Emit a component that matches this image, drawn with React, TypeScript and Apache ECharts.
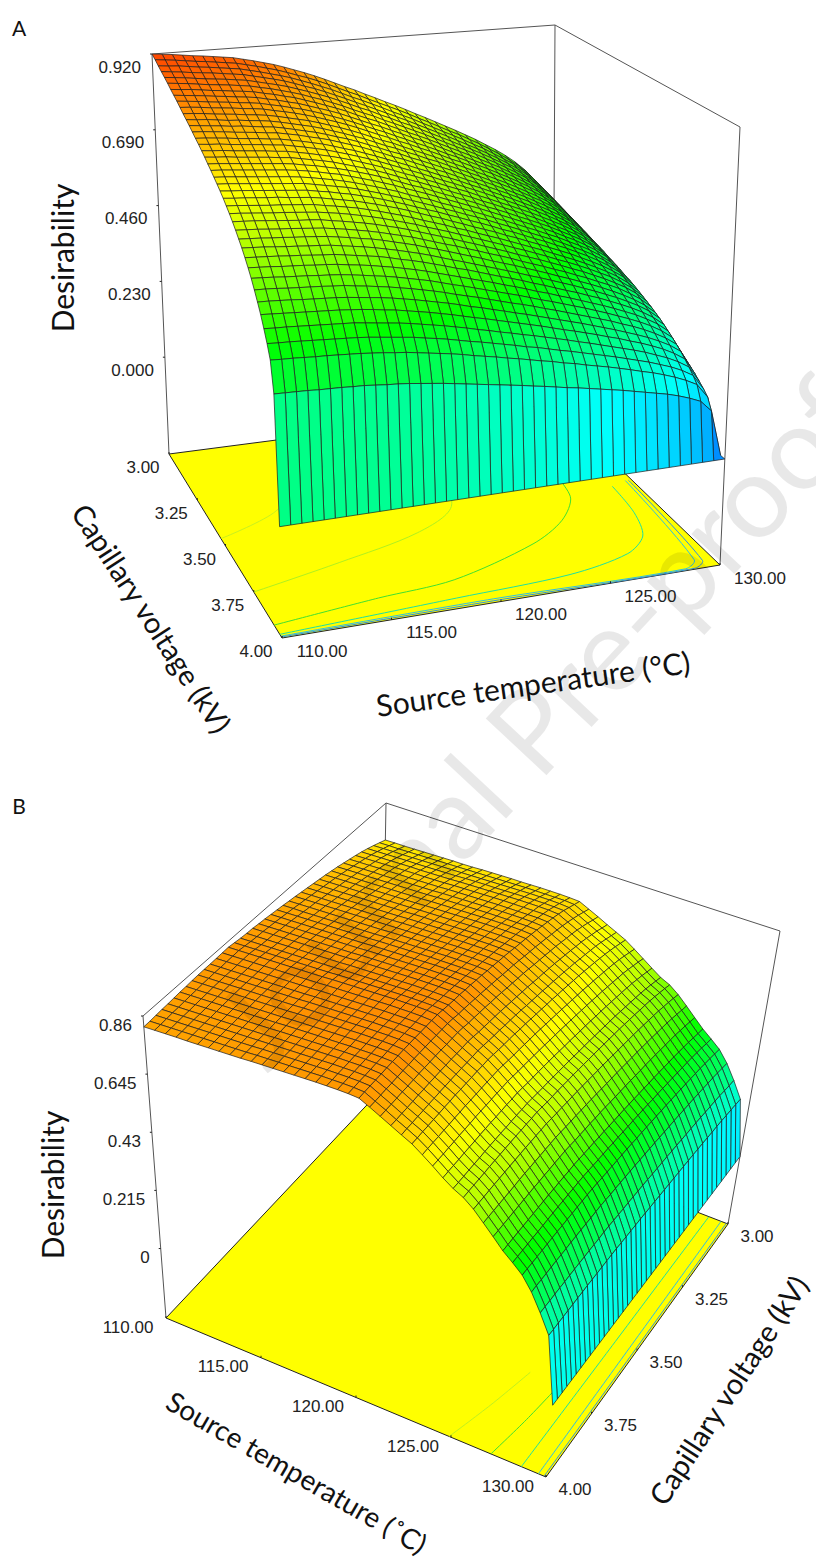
import React, { useEffect, useRef } from "react";
import * as echarts from "echarts";

const tempTicks = [110, 115, 120, 125, 130];
const voltTicks = [3, 3.25, 3.5, 3.75, 4];
const zTicksA = [0, 0.23, 0.46, 0.69, 0.92];
const zTicksB = [0, 0.215, 0.43, 0.645, 0.86];
const zLabelsA = ["0.000", "0.230", "0.460", "0.690", "0.920"];
const zLabelsB = ["0", "0.215", "0.43", "0.645", "0.86"];
const tempLabels = ["110.00", "115.00", "120.00", "125.00", "130.00"];
const voltLabels = ["3.00", "3.25", "3.50", "3.75", "4.00"];

// Desirability x 1000. Row = temperature 110..130 in 0.5 steps, column = voltage 3.00..4.00 in 0.025 steps.
const surfaceA = [
[920,912,903,895,887,879,870,862,854,845,836,828,820,811,802,794,785,776,766,757,747,737,727,716,704,692,679,665,650,635,618,600,581,559,536,512,484,454,420,340,0],
[917,909,900,892,884,876,867,859,851,843,834,825,817,809,800,791,782,773,764,755,745,735,724,713,702,690,677,663,648,633,616,598,579,558,535,510,482,452,418,339,0],
[914,906,898,889,881,873,865,856,848,840,831,823,814,806,797,789,780,771,761,752,742,732,722,711,699,687,675,661,646,631,614,596,577,556,533,508,481,451,417,338,0],
[910,902,894,885,877,869,861,853,844,836,827,819,811,803,794,785,776,767,758,749,739,729,719,708,696,684,672,658,643,628,612,593,574,553,531,506,479,449,415,337,0],
[906,898,890,882,873,865,857,849,841,833,824,815,807,799,790,782,773,764,755,746,736,726,716,705,693,681,669,655,641,625,609,591,572,551,528,504,477,447,413,335,0],
[903,895,887,879,870,862,854,846,838,830,821,813,805,796,787,779,770,761,752,743,733,723,713,703,691,679,666,653,638,623,607,589,570,549,526,502,475,445,412,334,0],
[899,891,883,875,867,859,850,842,834,826,817,809,801,793,784,776,767,758,749,740,730,720,710,699,688,676,663,650,636,620,604,586,567,547,524,500,473,443,410,333,0],
[895,887,879,871,863,855,847,839,831,823,814,806,797,789,780,772,763,754,746,737,727,717,707,696,685,673,661,647,633,618,601,584,565,544,522,498,471,441,408,331,0],
[891,883,875,867,859,851,843,835,827,819,810,802,794,786,777,769,760,751,742,733,723,714,704,693,682,670,658,644,630,615,599,581,562,542,519,495,469,439,406,330,0],
[884,876,868,860,852,844,836,828,820,812,804,796,788,780,771,763,754,745,736,728,718,708,698,688,676,665,652,639,625,610,594,576,558,537,515,492,465,436,403,327,0],
[877,869,861,853,845,838,830,822,814,806,797,789,781,774,765,757,748,739,731,722,712,702,693,682,671,660,647,634,620,605,589,572,553,533,511,488,461,432,400,324,0],
[869,861,853,846,838,830,822,814,806,799,790,782,774,766,758,750,741,733,724,715,706,696,686,676,665,654,641,628,614,600,584,567,548,528,507,483,457,428,396,322,0],
[861,853,845,838,830,822,815,807,799,791,783,775,767,759,751,743,734,726,717,709,699,690,680,670,659,647,635,622,609,594,579,561,543,523,502,479,453,424,393,319,0],
[851,843,836,828,820,813,805,797,790,782,774,766,758,751,742,734,726,717,709,700,691,682,672,662,651,640,628,615,602,587,572,555,537,517,496,473,448,420,388,315,0],
[840,832,825,817,810,802,795,787,780,772,764,756,748,741,732,725,717,708,700,691,682,673,664,654,643,632,620,607,594,580,564,548,530,511,490,467,442,414,383,311,0],
[829,822,814,807,799,792,784,777,769,762,754,746,739,731,723,715,707,699,691,682,673,664,655,645,634,623,612,599,586,572,557,541,523,504,483,461,436,409,378,307,0],
[817,810,802,795,788,780,773,766,758,751,743,735,728,721,712,705,697,689,681,672,663,654,645,636,625,614,603,591,578,564,549,533,516,497,476,454,430,403,373,302,0],
[804,797,790,782,775,768,761,753,746,739,731,724,716,709,701,694,686,678,670,662,653,644,635,626,615,605,593,581,568,555,540,524,507,489,469,447,423,396,367,297,0],
[790,783,776,769,762,754,747,740,733,726,718,711,704,697,689,682,674,666,658,650,641,633,624,615,604,594,583,571,559,545,531,515,498,480,461,439,416,389,360,292,0],
[776,769,762,755,748,741,734,727,720,713,705,698,691,684,677,670,662,654,646,639,630,622,613,604,594,584,573,561,549,535,521,506,490,472,452,431,408,383,354,287,0],
[763,756,749,742,736,729,722,715,708,701,694,687,680,673,665,658,651,643,636,628,620,611,603,594,584,574,563,552,539,526,513,497,481,464,445,424,401,376,348,282,0],
[748,741,735,728,721,714,708,701,694,687,680,673,666,660,652,646,638,631,623,616,607,599,591,582,572,563,552,541,529,516,503,488,472,455,436,416,393,369,341,277,0],
[734,727,721,714,708,701,694,688,681,675,667,661,654,647,640,633,626,619,611,604,596,588,580,571,562,552,542,531,519,506,493,479,463,446,428,408,386,362,335,272,0],
[719,713,706,700,693,687,680,674,667,661,654,647,641,634,627,620,613,606,599,592,584,576,568,559,550,541,531,520,508,496,483,469,454,437,419,400,378,354,328,266,0],
[705,699,692,686,680,673,667,661,654,648,641,635,628,622,615,608,601,594,587,580,572,565,557,548,539,530,520,510,498,486,474,460,445,429,411,392,371,348,321,261,0],
[690,684,678,671,665,659,653,647,640,634,627,621,615,608,602,595,589,582,575,568,560,553,545,537,528,519,509,499,488,476,464,450,435,420,402,384,363,340,315,255,0],
[674,668,662,656,650,644,638,632,625,619,613,607,601,594,588,582,575,568,561,555,547,540,532,524,516,507,497,487,477,465,453,439,425,410,393,375,355,332,307,249,0],
[659,653,647,641,635,629,623,617,612,606,599,593,587,581,575,569,562,556,549,542,535,528,521,513,504,496,486,476,466,455,443,430,416,401,384,366,347,325,301,244,0],
[643,637,631,626,620,614,608,602,597,591,584,579,573,567,561,555,548,542,536,529,522,515,508,500,492,484,475,465,455,444,432,419,406,391,375,358,338,317,293,238,0],
[627,621,616,610,604,599,593,587,582,576,570,564,559,553,547,541,535,529,522,516,509,502,495,488,480,472,463,453,443,433,421,409,396,381,366,349,330,309,286,232,0],
[611,606,600,594,589,584,578,572,567,562,555,550,544,539,533,527,521,515,509,503,496,489,483,475,467,459,451,442,432,422,411,398,386,371,356,340,321,301,279,226,0],
[594,589,583,578,573,567,562,557,551,546,540,535,529,524,518,513,507,501,495,489,482,476,469,462,454,447,438,429,420,410,399,387,375,361,346,330,312,293,271,220,0],
[577,572,567,561,556,551,546,541,535,530,524,519,514,509,503,498,492,486,481,475,469,462,456,449,441,434,426,417,408,398,388,376,364,351,336,321,303,284,263,213,0],
[558,553,548,543,538,533,528,523,518,513,507,502,497,492,487,482,476,470,465,459,453,447,441,434,427,420,412,403,395,385,375,364,352,339,325,310,294,275,254,206,0],
[539,534,529,524,520,515,510,505,500,495,490,485,480,475,470,465,460,454,449,444,438,432,426,419,412,405,398,390,381,372,362,351,340,328,314,300,284,266,246,199,0],
[518,513,509,504,499,495,490,485,481,476,471,466,462,457,452,447,442,437,432,426,421,415,409,403,396,390,382,375,366,357,348,338,327,315,302,288,272,255,236,192,0],
[494,490,485,481,476,472,467,463,458,454,449,445,440,436,431,426,421,416,412,407,401,396,390,384,378,371,365,357,349,341,332,322,312,300,288,275,260,244,225,183,0],
[466,462,458,453,449,445,441,437,432,428,424,419,415,411,406,402,397,393,388,384,378,373,368,363,356,350,344,337,329,322,313,304,294,283,272,259,245,230,212,172,0],
[430,426,422,418,415,411,407,403,399,395,391,387,383,379,375,371,367,362,358,354,349,344,340,335,329,323,317,311,304,297,289,280,271,261,251,239,226,212,196,159,0],
[345,342,339,336,333,329,326,323,320,317,314,311,307,304,301,298,294,291,287,284,280,276,273,268,264,259,255,249,244,238,232,225,218,210,201,192,181,170,157,128,0],
[0,0,0,0,0,0,0,0,0,0,0,0,0,0,0,0,0,0,0,0,0,0,0,0,0,0,0,0,0,0,0,0,0,0,0,0,0,0,0,0,0],
];
const surfaceB = [
[716,726,736,745,753,760,766,772,778,783,788,792,796,800,804,808,811,815,818,821,824,826,829,830,832,835,838,837,836,835,835,834,833,831,830,828,826,825,823,821,820],
[717,727,737,746,754,761,767,773,779,784,789,793,797,801,805,809,812,816,819,822,825,827,830,831,833,836,839,838,837,836,836,835,834,832,831,829,827,826,824,822,821],
[717,727,738,747,755,762,768,774,780,785,790,794,798,802,806,810,813,816,820,823,826,828,831,832,834,837,840,839,838,837,837,836,835,833,832,830,828,827,825,823,822],
[718,728,738,748,756,763,769,775,780,785,791,795,799,803,807,811,814,817,821,824,827,829,832,833,835,838,841,840,839,838,838,837,836,834,833,831,829,828,826,824,823],
[719,729,739,749,757,764,770,775,781,786,791,796,800,804,808,812,815,818,822,825,828,830,833,834,836,839,842,841,840,839,839,838,837,835,834,832,830,829,827,825,823],
[720,730,740,749,758,765,771,776,782,787,792,797,801,805,809,813,816,819,823,826,829,831,834,835,837,840,843,842,841,840,840,839,838,836,835,833,831,830,828,826,824],
[721,731,741,750,758,766,771,777,783,788,793,797,802,806,810,814,817,820,824,827,830,832,835,836,838,841,844,843,842,841,841,840,839,837,836,834,832,831,829,827,825],
[722,732,742,751,759,766,772,778,784,789,794,798,803,807,811,815,818,821,825,828,831,833,836,837,839,842,845,844,843,842,842,841,840,838,837,835,833,832,830,828,826],
[722,733,743,752,760,767,773,779,785,790,795,799,804,808,812,816,819,822,826,829,832,834,837,838,840,843,846,845,844,843,843,842,841,839,838,836,834,833,831,829,827],
[723,734,744,753,761,768,774,780,786,791,796,800,805,809,813,817,820,823,827,830,833,835,838,839,841,844,847,846,845,844,844,843,842,840,839,837,835,834,832,830,828],
[725,735,745,755,763,770,776,782,788,793,798,802,807,811,815,818,822,825,829,832,835,837,840,841,843,846,849,848,847,846,846,845,844,842,841,839,837,835,834,832,830],
[726,736,746,756,764,771,777,783,789,794,799,803,808,812,816,819,823,826,830,833,836,838,841,842,844,847,850,849,848,847,847,846,845,843,842,840,838,836,835,833,831],
[727,737,747,757,765,772,778,784,790,795,800,804,808,813,817,820,824,827,831,834,837,839,842,843,845,848,851,850,849,848,848,847,846,844,843,841,839,837,836,834,832],
[728,738,748,757,766,773,779,785,791,796,801,805,809,814,818,821,825,828,832,835,838,840,843,844,846,849,852,851,850,849,849,848,847,845,844,842,840,838,837,835,833],
[728,739,749,758,767,774,780,786,792,797,802,806,810,815,819,822,826,829,833,836,839,841,844,845,847,850,853,852,851,850,850,849,848,846,844,843,841,839,838,836,834],
[729,740,750,759,768,775,781,787,793,798,803,807,811,816,820,823,827,830,834,837,840,842,845,846,848,851,854,853,852,851,851,850,849,847,845,844,842,840,839,837,835],
[730,740,751,760,769,775,781,788,793,799,804,808,812,817,821,824,828,831,834,838,841,843,846,847,849,852,855,854,853,852,852,851,850,848,846,845,843,841,840,838,836],
[730,740,751,760,769,775,781,788,793,799,804,808,812,817,821,824,828,831,834,838,841,843,846,847,849,852,855,854,853,852,852,851,850,848,846,845,843,841,840,838,836],
[730,740,751,760,769,775,781,788,793,799,804,808,812,817,821,824,828,831,834,838,841,843,846,847,849,852,855,854,853,852,852,851,850,848,846,845,843,841,840,838,836],
[729,740,750,759,768,775,781,787,793,798,803,807,811,816,820,823,827,830,834,837,840,842,845,846,848,851,854,853,852,851,851,850,849,847,845,844,842,840,839,837,835],
[727,737,747,757,765,772,778,784,790,795,800,804,808,813,817,820,824,827,831,834,837,839,842,843,845,848,851,850,849,848,848,847,846,844,843,841,839,837,836,834,832],
[710,720,730,739,747,754,760,765,771,776,781,785,789,794,798,801,804,808,811,814,817,819,822,824,825,829,831,830,829,829,828,827,826,824,823,821,819,818,816,814,813],
[693,702,712,721,729,736,741,747,753,757,762,766,770,775,779,782,785,788,792,795,797,800,802,804,805,809,811,810,809,809,808,807,806,805,803,801,800,798,796,795,793],
[675,684,694,702,710,717,722,728,733,738,743,747,751,754,758,762,765,768,771,774,777,779,781,783,784,788,790,789,788,788,787,786,785,784,782,781,779,777,776,774,773],
[658,667,676,685,692,698,704,709,715,719,724,728,732,735,739,742,745,748,752,755,757,759,762,763,765,768,770,769,768,768,767,766,765,764,762,761,759,758,756,755,753],
[641,650,659,667,674,680,686,691,696,701,705,709,713,716,720,723,726,729,732,735,737,740,742,743,745,748,750,749,749,748,747,746,746,744,743,741,740,738,737,735,734],
[618,627,636,644,651,657,662,667,672,676,681,684,688,691,695,698,701,704,707,710,712,714,716,717,719,722,724,723,723,722,721,720,720,718,717,715,714,712,711,710,708],
[594,603,611,619,626,631,636,641,646,650,654,658,661,665,668,671,674,677,679,682,684,686,688,690,691,694,696,695,695,694,693,693,692,690,689,688,686,685,683,682,681],
[570,578,586,593,600,605,610,614,619,623,627,630,634,637,640,643,646,648,651,654,656,658,660,661,662,665,667,666,666,665,664,664,663,662,660,659,658,656,655,654,652],
[547,555,563,570,576,581,586,590,595,599,603,606,609,612,615,618,620,623,626,628,630,632,634,635,637,639,641,640,640,639,638,638,637,636,635,633,632,631,629,628,627],
[531,539,546,553,559,564,568,573,577,581,585,588,591,594,597,600,602,605,607,610,611,613,615,616,617,620,622,621,621,620,620,619,618,617,616,615,613,612,611,610,608],
[506,514,521,527,533,538,542,546,550,554,557,560,563,566,569,572,574,576,579,581,583,585,586,588,589,591,593,592,592,591,591,590,589,588,587,586,585,584,582,581,580],
[475,481,488,494,500,504,508,512,516,519,523,525,528,531,534,536,538,540,543,545,547,548,550,551,552,554,556,555,555,554,554,553,553,552,550,549,548,547,546,545,544],
[443,449,456,461,467,471,474,478,482,485,488,490,493,496,498,500,502,504,507,509,510,512,513,514,515,517,519,518,518,517,517,516,516,515,514,513,512,511,510,509,508],
[412,417,423,429,433,437,441,444,447,450,453,455,458,460,463,465,467,469,470,472,474,475,477,478,479,481,482,481,481,481,480,480,479,478,477,476,475,474,473,472,471],
[386,391,397,402,406,410,413,416,419,422,425,427,429,432,434,436,438,439,441,443,444,446,447,448,449,451,452,452,451,451,450,450,449,448,447,446,446,445,444,443,442],
[359,364,369,373,378,381,384,387,390,392,395,397,399,401,403,405,407,408,410,412,413,414,415,416,417,419,420,420,419,419,418,418,417,417,416,415,414,413,412,412,411],
[318,322,327,331,334,337,340,343,345,347,350,352,353,355,357,359,360,362,363,365,366,367,368,369,369,371,372,372,371,371,371,370,370,369,368,368,367,366,365,365,364],
[265,268,272,276,279,281,283,286,288,290,291,293,295,296,298,299,300,301,303,304,305,306,307,307,308,309,310,310,309,309,309,308,308,308,307,306,306,305,304,304,303],
[206,209,212,214,217,219,220,222,224,225,227,228,229,230,231,232,233,234,235,236,237,238,238,239,239,240,241,241,241,240,240,240,240,239,239,238,238,237,237,236,236],
[0,0,0,0,0,0,0,0,0,0,0,0,0,0,0,0,0,0,0,0,0,0,0,0,0,0,0,0,0,0,0,0,0,0,0,0,0,0,0,0,0],
];

const contoursA = [
  { color: "#c8f020", pts: [[110, 3.46], [113.1, 3.37], [116, 3.2]] },
  { color: "#b0f020", pts: [[110, 3.75], [114.5, 3.67], [118.8, 3.58], [121.2, 3.47], [122.5, 3.2]] },
  { color: "#40e030", pts: [[110, 3.93], [115.1, 3.88], [118.8, 3.85], [123.3, 3.73], [125.4, 3.63], [126.7, 3.51], [127, 3.3]] },
  { color: "#20e0a0", pts: [[110, 3.98], [118.3, 3.945], [123.7, 3.92], [126.8, 3.86], [128.1, 3.78], [128.7, 3.65], [128.9, 3.49]] },
  { color: "#30c0e0", pts: [[110, 3.99], [119.8, 3.98], [128.5, 3.99], [129.2, 3.95], [129.7, 3.47]] },
  { color: "#3090e0", pts: [[110, 3.995], [120, 3.99], [128.9, 3.995], [129.5, 3.96], [129.85, 3.47]] },
];
const contoursB = [
  { color: "#c0f020", pts: [[124.9, 4], [125.6, 3.85], [126.2, 3.7]] },
  { color: "#40e030", pts: [[127.1, 4], [127.5, 3.85], [127.8, 3.7]] },
  { color: "#20e0a0", pts: [[128.7, 4], [128.8, 3.5], [128.9, 3]] },
  { color: "#30c0e0", pts: [[129.6, 4], [129.6, 3.5], [129.6, 3]] },
  { color: "#3090e0", pts: [[129.9, 4], [129.9, 3.5], [129.9, 3]] },
];

type Q = number[][];
const bilinear = (q: Q) => (u: number, v: number) => [0, 1].map((k) => (1 - u) * (1 - v) * q[0][k] + u * (1 - v) * q[1][k] + u * v * q[2][k] + (1 - u) * v * q[3][k]);
const makePanel = (floor: Q, top: Q, w0: number, zTop: number) => {
  const hf = bilinear(floor), ht = bilinear(top);
  const at = (T: number, V: number, w: number) => {
    const u = (T - 110) / 20, v = V - 3;
    const p = hf(u, v), q = ht(u, v);
    return [p[0] + (q[0] - p[0]) * w, p[1] + (q[1] - p[1]) * w];
  };
  return { at, z: (T: number, V: number, z: number) => at(T, V, w0 + (1 - w0) * z / zTop) };
};
const panelA = makePanel([[169, 454], [553, 404], [720, 565], [282, 638]], [[152, 54], [555, 25], [740, 127], [272, 178]], 0.242, 0.92);
const panelB = makePanel([[381, 1090], [728, 1224], [546, 1477], [166, 1318]], [[386, 803], [780, 931], [575, 1165], [143, 1016]], 0.23, 0.86);

const jet = (t: number) => {
  const c = (x: number) => Math.round(255 * Math.max(0, Math.min(1, x)));
  return `rgb(${c(4 * t - 2)},${c(t < 0.75 ? 4 * t : 4 - 4 * t)},${c(2 - 4 * t)})`;
};
const toneA = (z: number) => (z < 0.46 ? z / 0.92 : 0.5 + (z - 0.46) * 0.93);
const toneB = (z: number) => (z < 0.6 ? z / 0.86 * 0.97 : 0.677 + ((z - 0.6) / 0.26) * 0.19);

const tickFont = '17px "Liberation Sans", Arial, sans-serif';

const surfaceSeries = (panel: any, table: number[][], tone: (z: number) => number, order: "A" | "B") => {
  const data: number[][] = [];
  if (order === "A") { for (let j = 0; j < 40; j++) for (let i = 39; i >= 0; i--) data.push([i, j]); }
  else { for (let i = 0; i < 40; i++) for (let j = 0; j < 40; j++) data.push([i, j]); }
  return {
    type: "custom", coordinateSystem: "cartesian2d", silent: true, clip: false, z: 5, progressive: 0,
    encode: { x: 0, y: 1 },
    data,
    renderItem: (params: any, api: any) => {
      const i = api.value(0), j = api.value(1);
      const corner = (a: number, b: number) => api.coord(panel.z(110 + a * 0.5, 3 + b * 0.025, table[a][b] / 1000));
      const high = Math.max(table[i][j], table[i + 1][j], table[i][j + 1], table[i + 1][j + 1]) / 1000;
      return { type: "polygon", shape: { points: [corner(i, j), corner(i + 1, j), corner(i + 1, j + 1), corner(i, j + 1)] }, style: { fill: jet(tone(high)), stroke: "#1c1c1c", lineWidth: 0.7 } };
    },
  };
};

const frameSeries = (panel: any, kind: "A" | "B", contours: any[]) => ({
  type: "custom", coordinateSystem: "cartesian2d", silent: true, clip: false, z: 3, progressive: 0,
  data: [[0, 0]], encode: { x: 0, y: 1 },
  renderItem: (_p: any, api: any) => {
    const f = (T: number, V: number) => api.coord(panel.at(T, V, 0));
    const t = (T: number, V: number) => api.coord(panel.at(T, V, 1));
    const grey = { stroke: "#555", lineWidth: 1, fill: "none" };
    const corners = kind === "A" ? [[110, 3], [130, 3], [130, 4]] : [[110, 4], [110, 3], [130, 3]];
    const children: any[] = [];
    children.push({ type: "polyline", shape: { points: corners.map((c) => t(c[0], c[1])) }, style: grey });
    corners.forEach((c) => children.push({ type: "polyline", shape: { points: [t(c[0], c[1]), f(c[0], c[1])] }, style: grey }));
    children.push({ type: "polygon", shape: { points: [f(110, 3), f(130, 3), f(130, 4), f(110, 4)] }, style: { fill: "#ffff00", stroke: "#222", lineWidth: 1 } });
    contours.forEach((c) => children.push({ type: "polyline", shape: { points: c.pts.map((p: number[]) => f(p[0], p[1])), smooth: 0.3 }, style: { stroke: c.color, lineWidth: 1, fill: "none" } }));
    return { type: "group", children };
  },
});

const tickSeries = (panel: any, kind: "A" | "B", zTicks: number[], zLabels: string[]) => ({
  type: "custom", coordinateSystem: "cartesian2d", silent: true, clip: false, z: 8, progressive: 0,
  data: [[0, 0]], encode: { x: 0, y: 1 },
  renderItem: (_p: any, api: any) => {
    const children: any[] = [];
    const label = (pt: number[], dx: number, dy: number, text: string, align = "center") => {
      const c = api.coord(pt);
      children.push({ type: "text", x: c[0] + dx, y: c[1] + dy, style: { text, font: tickFont, fill: "#222", textAlign: align, textVerticalAlign: "middle" } });
    };
    const mark = (pt: number[], dx: number, dy: number) => {
      const c = api.coord(pt);
      children.push({ type: "line", shape: { x1: c[0], y1: c[1], x2: c[0] + dx, y2: c[1] + dy }, style: { stroke: "#222", lineWidth: 1 } });
    };
    const tV = kind === "A" ? 110 : 130;
    const zV = kind === "A" ? 3 : 4;
    tempTicks.forEach((T, n) => { const p = panel.at(T, 4, 0); mark(p, 0, -2); kind === "A" ? label(p, 40, 13, tempLabels[n]) : label(p, -38, 9, tempLabels[n]); });
    voltTicks.forEach((V, n) => { const p = panel.at(tV, V, 0); mark(p, 0, -2); kind === "A" ? label(p, -26, 13, voltLabels[n]) : label(p, 29, 12, voltLabels[n]); });
    zTicks.forEach((z, n) => { const p = panel.z(110, zV, z); mark(p, -2, 0); label(p, -11, kind === "A" ? 13 : 9, zLabels[n], "right"); });
    return { type: "group", children };
  },
});

const titles = [
  { text: "A", x: 19, y: 27, rotation: 0, size: 21 },
  { text: "B", x: 19, y: 805, rotation: 0, size: 21 },
  { text: "Desirability", x: 62, y: 258, rotation: 90, size: 30 },
  { text: "Capillary voltage (kV)", x: 152, y: 618, rotation: -57, size: 29 },
  { text: "Source temperature (°C)", x: 533, y: 683, rotation: 8, size: 30 },
  { text: "Desirability", x: 52, y: 1185, rotation: 90, size: 30 },
  { text: "Source temperature (˚C)", x: 297, y: 1472, rotation: -30, size: 28 },
  { text: "Capillary voltage (kV)", x: 728, y: 1390, rotation: 57, size: 29 },
];

export default function App() {
  const ref = useRef<HTMLDivElement>(null);
  useEffect(() => {
    document.body.style.margin = "0";
    const chart = echarts.init(ref.current!, undefined, { renderer: "svg" });
    chart.setOption({
      animation: false,
      backgroundColor: "#ffffff",
      grid: { left: 0, right: 0, top: 0, bottom: 0 },
      xAxis: { type: "value", min: 0, max: 816, show: false },
      yAxis: { type: "value", min: 0, max: 1560, inverse: true, show: false },
      series: [
        frameSeries(panelA, "A", contoursA),
        surfaceSeries(panelA, surfaceA, toneA, "A"),
        tickSeries(panelA, "A", zTicksA, zLabelsA),
        frameSeries(panelB, "B", contoursB),
        surfaceSeries(panelB, surfaceB, toneB, "B"),
        tickSeries(panelB, "B", zTicksB, zLabelsB),
      ],
      graphic: [
        ...titles.map((t) => ({
          type: "text", x: t.x, y: t.y, rotation: (t.rotation * Math.PI) / 180, z: 20,
          style: { text: t.text, font: `${t.size}px Lato, sans-serif`, fill: "#111", textAlign: "center", textVerticalAlign: "middle" },
        })),
        { type: "text", x: 277, y: 1084, rotation: (47 * Math.PI) / 180, z: 30, silent: true, style: { text: "Journal Pre-proof", font: '116px Lato, sans-serif', fill: "rgba(0,0,0,0.09)", textAlign: "left", textVerticalAlign: "bottom" } },
      ],
    });
    return () => chart.dispose();
  }, []);
  return <div ref={ref} style={{ position: "absolute", left: 0, top: 0, width: 816, height: 1560 }} />;
}
